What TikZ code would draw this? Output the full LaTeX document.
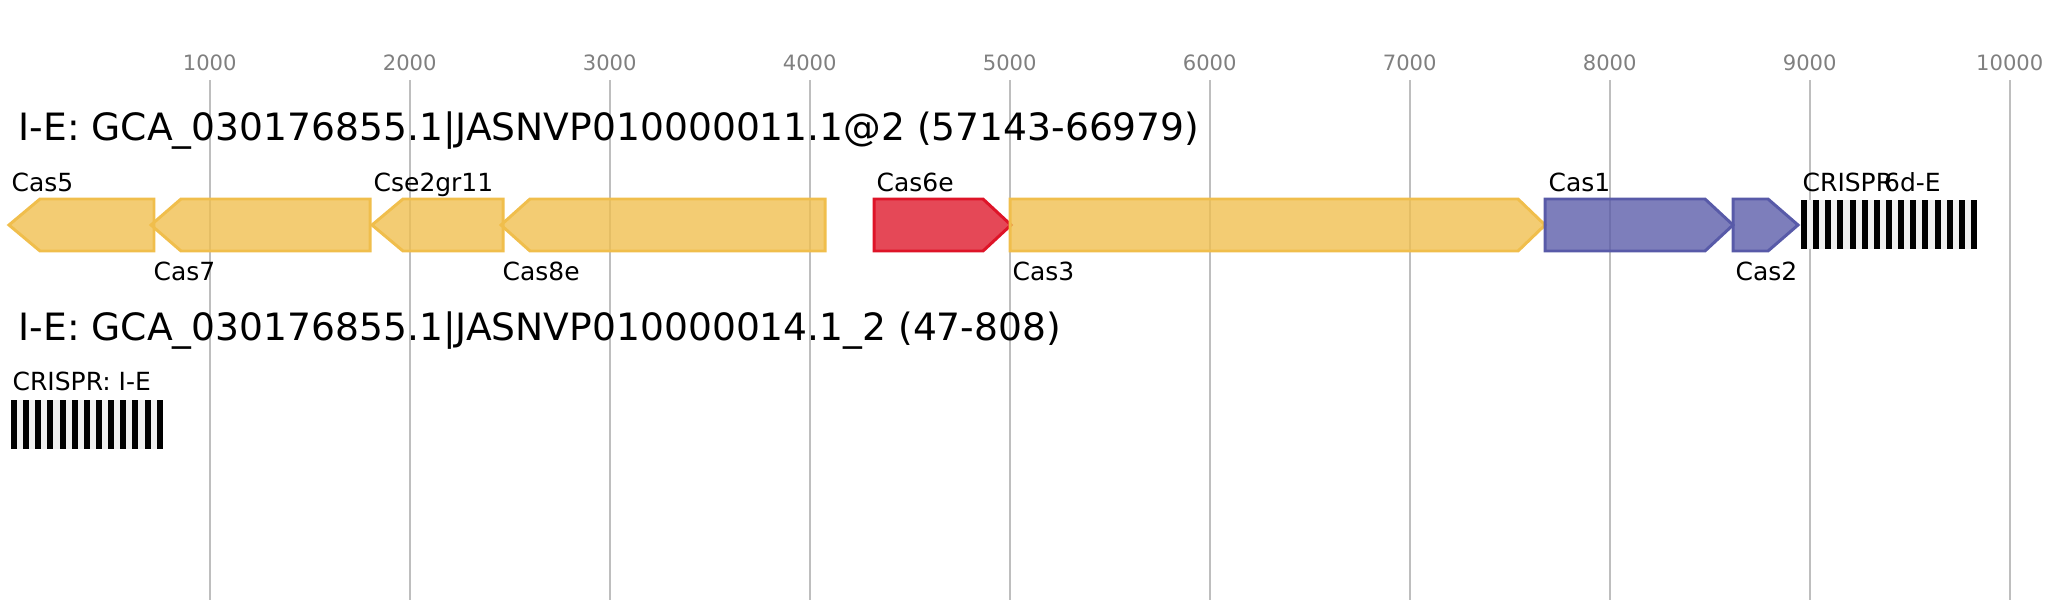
\documentclass[tikz,border=0pt]{standalone}
\usepackage{fontspec}
\setmainfont{DejaVu Sans}
\usepackage{tikz}
\definecolor{casyellow}{RGB}{240,190,76}
\definecolor{casred}{RGB}{222,20,40}
\definecolor{casblue}{RGB}{88,90,168}
\definecolor{gridgray}{RGB}{190,190,190}
\definecolor{tickgray}{RGB}{128,128,128}
\definecolor{arraybg}{RGB}{240,240,240}

\begin{document}
\begin{tikzpicture}[x=0.01cm, y=-0.01cm,
    gene/.style={line width=0.85pt, line join=miter, fill opacity=0.78},
    ticklabel/.style={anchor=base, inner sep=0pt, text=tickgray, font=\fontsize{6}{7}\selectfont},
    genelabel/.style={anchor=base west, inner sep=0pt, font=\fontsize{7.1}{8.5}\selectfont},
    locustitle/.style={anchor=base west, inner sep=0pt, font=\fontsize{10.7}{12.5}\selectfont}]
    \useasboundingbox (0,0) rectangle (2067,600);
    \def\top{199}
    \def\mid{225}
    \def\bot{251}
    % scale: 0.2 px per bp, origin at 9.7
    \foreach \k in {1,...,10} {
      \draw[gridgray, line width=0.55pt] (9.7+\k*200,80) -- (9.7+\k*200,600);
      \node[ticklabel] (tick\k) at (9.7+\k*200,70) {\k000};
    }
    \node[locustitle] (title1) at (18,140) {I-E: GCA\_030176855.1|JASNVP010000011.1@2 (57143-66979)};
    \node[locustitle] (title2) at (18,340) {I-E: GCA\_030176855.1|JASNVP010000014.1\_2 (47-808)};
    % genes pointing left
    \filldraw[gene, draw=casyellow, fill=casyellow] (9,\mid) -- (40,\top) -- (154,\top) -- (154,\bot) -- (40,\bot) -- cycle;
    \filldraw[gene, draw=casyellow, fill=casyellow] (151,\mid) -- (181,\top) -- (370,\top) -- (370,\bot) -- (181,\bot) -- cycle;
    \filldraw[gene, draw=casyellow, fill=casyellow] (372,\mid) -- (403,\top) -- (503,\top) -- (503,\bot) -- (403,\bot) -- cycle;
    \filldraw[gene, draw=casyellow, fill=casyellow] (501,\mid) -- (530,\top) -- (825,\top) -- (825,\bot) -- (530,\bot) -- cycle;
    % genes pointing right
    \filldraw[gene, draw=casred, fill=casred] (874,\top) -- (983,\top) -- (1011,\mid) -- (983,\bot) -- (874,\bot) -- cycle;
    \filldraw[gene, draw=casyellow, fill=casyellow] (1010,\top) -- (1518,\top) -- (1545,\mid) -- (1518,\bot) -- (1010,\bot) -- cycle;
    \filldraw[gene, draw=casblue, fill=casblue] (1545,\top) -- (1705,\top) -- (1733,\mid) -- (1705,\bot) -- (1545,\bot) -- cycle;
    \filldraw[gene, draw=casblue, fill=casblue] (1733,\top) -- (1768,\top) -- (1798,\mid) -- (1768,\bot) -- (1733,\bot) -- cycle;
    % CRISPR arrays
    \fill[arraybg] (1801,200) rectangle (1977,249);
    \foreach \i in {0,...,14}
      \fill[black] (1801+\i*12.14,200) rectangle ++(6,49);
    \fill[arraybg] (11,400) rectangle (162,449);
    \foreach \i in {0,...,12}
      \fill[black] (11+\i*12.14,400) rectangle ++(6,49);
    % labels
    \node[genelabel] (cas5) at (11,191) {Cas5};
    \node[genelabel] (cas7) at (153,280) {Cas7};
    \node[genelabel] (cse2) at (373,191) {Cse2gr11};
    \node[genelabel] (cas8e) at (502,280) {Cas8e};
    \node[genelabel] (cas6e) at (876,191) {Cas6e};
    \node[genelabel] (cas3) at (1012,280) {Cas3};
    \node[genelabel] (cas1) at (1548,191) {Cas1};
    \node[genelabel] (cas2) at (1735,280) {Cas2};
    \node[genelabel] (crispr1) at (1802,191) {CRISPR\kern-0.36em6d-E};
    \node[genelabel] (crispr2) at (12,390) {CRISPR: I-E};
\end{tikzpicture}
\end{document}
